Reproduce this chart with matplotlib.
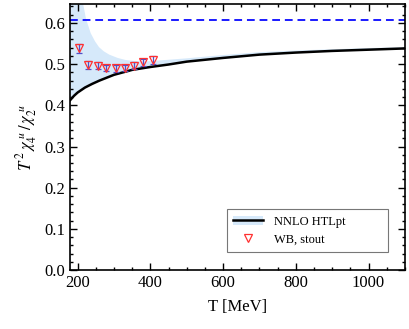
import matplotlib.pyplot as plt
from matplotlib.lines import Line2D
from matplotlib.patches import Patch
from matplotlib.ticker import MultipleLocator

plt.rcParams["font.family"] = ["Liberation Serif", "DejaVu Serif"]
plt.rcParams["mathtext.fontset"] = "stix"

# NNLO HTLpt central curve
T_CURVE = [180, 190, 200, 220, 240, 260, 280, 300, 325, 350, 400, 450, 500,
           600, 700, 800, 900, 1000, 1100]
HTL_CENTRAL = [0.413, 0.423, 0.431, 0.443, 0.452, 0.460, 0.467, 0.474, 0.480,
               0.486, 0.493, 0.499, 0.506, 0.515, 0.523, 0.528, 0.532, 0.535,
               0.538]

# upper edge of the HTLpt band
T_BAND = [180, 200, 213, 223, 236, 248, 259, 272, 287, 310, 332, 360, 396,
          442, 500, 600, 700, 800, 900, 1000, 1100]
HTL_UPPER = [0.90, 0.75, 0.656, 0.610, 0.575, 0.555, 0.541, 0.531, 0.523,
             0.515, 0.510, 0.507, 0.507, 0.510, 0.514, 0.522, 0.529, 0.533,
             0.536, 0.539, 0.541]

# WB, stout lattice points
T_LAT = [204, 229, 255, 279, 305, 330, 355, 380, 406]
LAT_VAL = [0.538, 0.498, 0.496, 0.491, 0.490, 0.491, 0.496, 0.504, 0.510]
LAT_ERR = [0.010, 0.009, 0.008, 0.008, 0.008, 0.008, 0.008, 0.008, 0.009]

SB_LIMIT = 0.607

fig = plt.figure(figsize=(4.09, 3.29), dpi=100)
ax = fig.add_axes([0.172, 0.179, 0.818, 0.809])

band_color = "#d6e9fa"
ax.fill_between(T_BAND, [0] * len(T_BAND), HTL_UPPER, color=band_color, lw=0)
# mask below the central curve so the band sits on top of it
ax.fill_between(T_CURVE, [0] * len(T_CURVE), HTL_CENTRAL, color="white", lw=0)
ax.plot(T_CURVE, HTL_CENTRAL, color="black", lw=1.8)

ax.axhline(SB_LIMIT, color="#1a1aff", lw=1.4, ls=(0, (4, 2.5)))

ax.errorbar(T_LAT, LAT_VAL, yerr=LAT_ERR, fmt="none", ecolor="#5050c8",
            elinewidth=0.9, capsize=2.5, capthick=0.9)
ax.plot(T_LAT, LAT_VAL, ls="none", marker="v", ms=6, mfc="none",
        mec="#ff3030", mew=0.9)

ax.set_xlim(180, 1100)
ax.set_ylim(0.0, 0.646)
ax.xaxis.set_major_locator(MultipleLocator(200))
ax.xaxis.set_minor_locator(MultipleLocator(50))
ax.yaxis.set_major_locator(MultipleLocator(0.1))
ax.yaxis.set_minor_locator(MultipleLocator(0.02))
ax.yaxis.set_major_formatter(plt.FuncFormatter(lambda v, p: f"{v:.1f}"))
ax.tick_params(which="both", direction="in", top=True, right=True,
               labelsize=12, width=1.0)
ax.tick_params(which="major", length=5)
ax.tick_params(which="minor", length=2.5)
for spine in ax.spines.values():
    spine.set_linewidth(1.2)

ax.set_xlabel("T [MeV]", fontsize=12, labelpad=6)
ax.set_ylabel(r"$T^{\,2}\,\chi_4^{\ u}\,/\,\chi_2^{\ u}$", fontsize=12,
              labelpad=4)

htl_handle = (Patch(facecolor=band_color, edgecolor="none"),
              Line2D([], [], color="black", lw=1.8))
wb_handle = Line2D([], [], ls="none", marker="v", ms=6, mfc="none",
                   mec="#ff3030", mew=0.9)
leg = ax.legend([htl_handle, wb_handle], ["NNLO HTLpt", "WB, stout"],
                loc="lower left", bbox_to_anchor=(0.468, 0.068, 0.481, 0.15),
                mode="expand", fontsize=9, frameon=True, fancybox=False,
                borderaxespad=0, handlelength=2.4, handletextpad=0.9,
                borderpad=0.5)
leg.get_frame().set_edgecolor("#555555")
leg.get_frame().set_linewidth(0.8)

fig.savefig("out.png", dpi=100)
